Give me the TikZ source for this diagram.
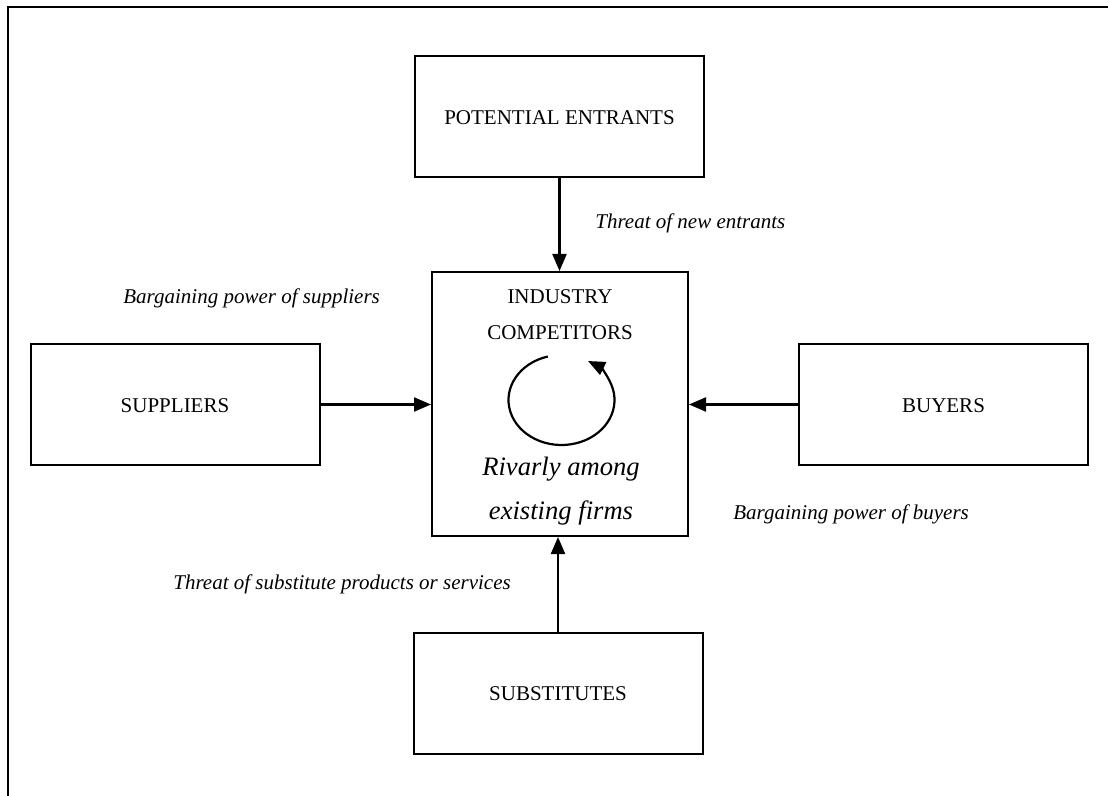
\documentclass[tikz,border=0pt]{standalone}
\usepackage{fontspec}
\setmainfont{Liberation Serif}
\usetikzlibrary{arrows.meta,calc}

\begin{document}
\begin{tikzpicture}[x=0.5pt,y=-0.5pt,
  forcebox/.style={draw,line width=1pt,inner sep=0pt,
    minimum width=144.5pt,minimum height=60.5pt,font=\fontsize{10.5}{12}\selectfont},
  force/.style={line width=1.1pt,-{Triangle[length=8.5pt,width=7pt]}},
  lbl/.style={inner sep=0pt,anchor=base west,font=\fontsize{10.5}{12}\itshape},
  capstext/.style={inner sep=0pt,anchor=base,font=\fontsize{10.5}{12}\selectfont},
  rivtext/.style={inner sep=0pt,anchor=base,font=\fontsize{13.3}{16}\itshape}]
  \useasboundingbox (0,0) rectangle (1108,796);

  % page frame (only top and left edges fall inside the page)
  \draw[line width=1pt] (8,796) -- (8,7) -- (1108,7);

  % the five forces
  \node[forcebox] (pe)  at (559.5,116.5) {};
  \node[forcebox] (sup) at (175,404.5) {};
  \node[forcebox] (buy) at (943.5,404.5) {};
  \node[forcebox] (sub) at (558,693.5) {};
  \node[draw,line width=1pt,inner sep=0pt,minimum width=128pt,minimum height=132pt] (ind) at (560,404) {};

  \node[capstext] (petxt)  at (559.5,125) {POTENTIAL ENTRANTS};
  \node[capstext] (suptxt) at (175,413) {SUPPLIERS};
  \node[capstext] (buytxt) at (943.5,413) {BUYERS};
  \node[capstext] (subtxt) at (558,700) {SUBSTITUTES};
  \node[capstext] (indtxt1) at (560,304) {INDUSTRY};
  \node[capstext] (indtxt2) at (560,340) {COMPETITORS};
  \node[rivtext] (riv1) at (561,475) {Rivarly among};
  \node[rivtext] (riv2) at (561,519) {existing firms};

  % rivalry loop
  \coordinate (loopc) at (561.5,400);
  \draw[force] ($(loopc)+(-105:53 and 45)$) arc[start angle=-105,end angle=-420,x radius=53,y radius=45];

  % forces acting on the industry
  \draw[force] (pe.south) -- (pe.south |- ind.north);
  \draw[force] (sup.east) -- (ind.west |- sup.east);
  \draw[force] (buy.west) -- (ind.east |- buy.west);
  \draw[force] (sub.north) -- (sub.north |- ind.south);

  % force labels
  \node[lbl] (lpe)  at (595,229) {Threat of new entrants};
  \node[lbl] (lsup) at (123,304) {Bargaining power of suppliers};
  \node[lbl] (lbuy) at (733,519) {Bargaining power of buyers};
  \node[lbl] (lsub) at (173,589) {Threat of substitute products or services};
\end{tikzpicture}
\end{document}
